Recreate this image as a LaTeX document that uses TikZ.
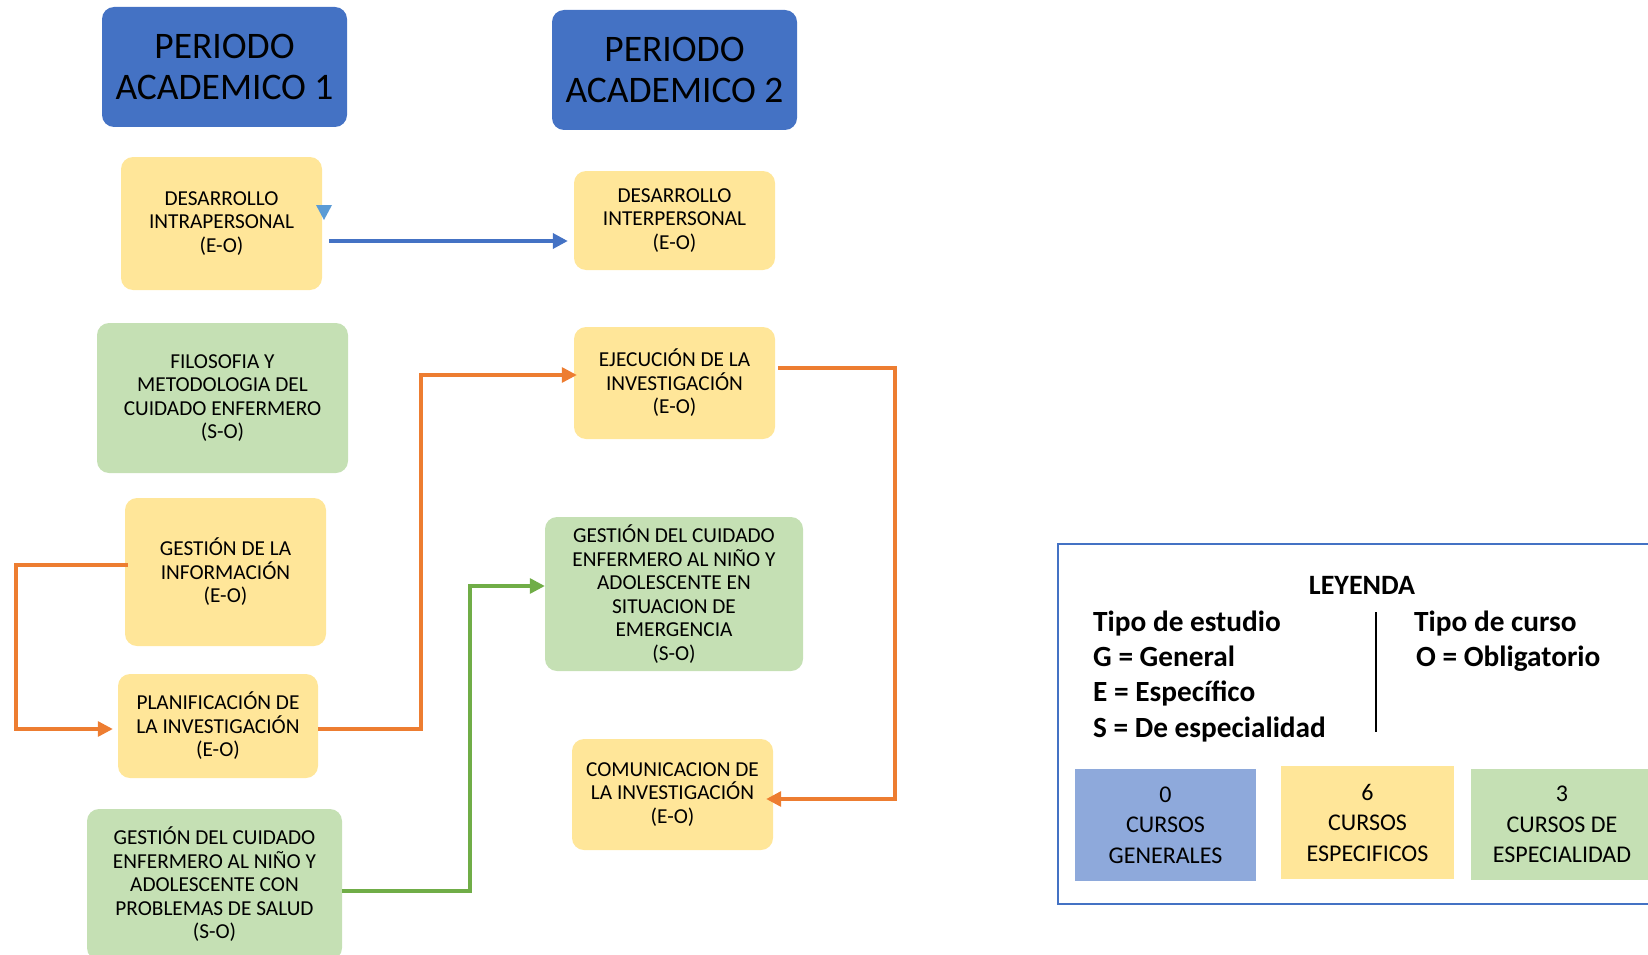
\documentclass[tikz,border=0pt]{standalone}
\usepackage{fontspec}
\setmainfont{Carlito}
\usetikzlibrary{arrows.meta}
\definecolor{tblue}{HTML}{4472C4}
\definecolor{ylw}{HTML}{FFE699}
\definecolor{grn}{HTML}{C5E0B4}
\definecolor{lblue}{HTML}{8EA9DB}
\definecolor{orng}{HTML}{ED7D31}
\definecolor{garr}{HTML}{70AD47}
\definecolor{tri}{HTML}{5B9BD5}
\tikzset{
  basebox/.style={inner sep=0pt, align=center, text=black},
  titlebox/.style={basebox, fill=tblue, rounded corners=12pt, font=\fontsize{37.5}{41}\selectfont},
  ybox/.style={basebox, fill=ylw, rounded corners=12pt, font=\fontsize{21.3}{23.5}\selectfont},
  gbox/.style={basebox, fill=grn, rounded corners=12pt, font=\fontsize{21.3}{23.5}\selectfont},
  legsq/.style={basebox, font=\fontsize{24}{30.5}\selectfont},
  legtxt/.style={inner sep=0pt, anchor=base west, font=\bfseries\fontsize{29.3}{35}\selectfont},
  conn/.style={line width=3.2pt},
  oarrow/.style={conn, draw=orng, -{Triangle[length=15pt,width=15pt]}},
  garrow/.style={conn, draw=garr, -{Triangle[length=15pt,width=15pt]}},
  barrow/.style={conn, line width=3.6pt, draw=tblue, -{Triangle[length=15pt,width=15pt]}},
}
\begin{document}
\begin{tikzpicture}[x=1pt,y=-1pt]
\useasboundingbox (0,0) rectangle (1648,955);
\clip (0,0) rectangle (1648,955);

% titles
\node[titlebox, minimum width=245pt, minimum height=120pt] (pa1) at (224.5,67) {PERIODO\\ACADEMICO 1};
\node[titlebox, minimum width=245pt, minimum height=120pt] (pa2) at (674.5,70) {PERIODO\\ACADEMICO 2};

% column 1
\node[ybox, minimum width=201pt, minimum height=133pt] (di) at (221.5,223.5) {DESARROLLO\\INTRAPERSONAL\\(E-O)};
\node[gbox, minimum width=251pt, minimum height=150pt] (fil) at (222.5,398) {FILOSOFIA Y\\METODOLOGIA DEL\\CUIDADO ENFERMERO\\(S-O)};
\node[ybox, minimum width=201pt, minimum height=148pt] (ginf) at (225.5,572) {GESTIÓN DE LA\\INFORMACIÓN\\(E-O)};
\node[ybox, minimum width=200pt, minimum height=104pt] (plan) at (218,726) {PLANIFICACIÓN DE\\LA INVESTIGACIÓN\\(E-O)};
\node[gbox, minimum width=255pt, minimum height=151pt] (gcp) at (214.5,884.5) {GESTIÓN DEL CUIDADO\\ENFERMERO AL NIÑO Y\\ADOLESCENTE CON\\PROBLEMAS DE SALUD\\(S-O)};

% column 2
\node[ybox, minimum width=201pt, minimum height=99pt] (dinter) at (674.5,220.5) {DESARROLLO\\INTERPERSONAL\\(E-O)};
\node[ybox, minimum width=201pt, minimum height=112pt] (eje) at (674.5,383) {EJECUCIÓN DE LA\\INVESTIGACIÓN\\(E-O)};
\node[gbox, minimum width=258pt, minimum height=154pt] (gce) at (674,594) {GESTIÓN DEL CUIDADO\\ENFERMERO AL NIÑO Y\\ADOLESCENTE EN\\SITUACION DE\\EMERGENCIA\\(S-O)};
\node[ybox, minimum width=201pt, minimum height=111pt] (com) at (672.5,794.5) {COMUNICACION DE\\LA INVESTIGACIÓN\\(E-O)};

% stray arrowhead
\fill[tri] (316,205) -- (332,205) -- (324,220) -- cycle;

% connectors
\draw[barrow, shorten <=7pt, shorten >=6pt] (di.east |- 0,241) -- (dinter.west |- 0,241);
\draw[oarrow, shorten >=-3pt] (plan.east |- 0,729) -| (421,375) -- (eje.west |- 0,375);
\draw[oarrow, shorten <=-3pt, shorten >=5pt] (ginf.west |- 0,565) -| (16,729) -- (plan.west |- 0,729);
\draw[oarrow, shorten <=3pt, shorten >=-7pt] (eje.east |- 0,368) -| (895,799) -- (com.east |- 0,799);
\draw[garrow] (gcp.east |- 0,891) -| (470,586) -- (gce.west |- 0,586);

% legend
\draw[tblue, line width=2.5pt] (1058,544) rectangle (1700,904);
\node[inner sep=0pt, font=\bfseries\fontsize{28}{34}\selectfont] (ley) at (1362,585) {LEYENDA};
\node[legtxt] (t1) at (1093,631) {Tipo de estudio};
\node[legtxt] (t2) at (1093,666) {G = General};
\node[legtxt] (t3) at (1093,701) {E = Específico};
\node[legtxt] (t4) at (1093,737) {S = De especialidad};
\node[legtxt] (t5) at (1414,631) {Tipo de curso};
\node[legtxt] (t6) at (1416,666) {O = Obligatorio};
\draw[black, line width=2.5pt] (1376,612) -- (1376,732);

\node[legsq, fill=lblue, minimum width=181pt, minimum height=112pt] (lg) at (1165.5,825) {0\\CURSOS\\GENERALES};
\node[legsq, fill=ylw, minimum width=173pt, minimum height=113pt] (le) at (1367.5,822.5) {6\\CURSOS\\ESPECIFICOS};
\node[legsq, fill=grn, minimum width=182pt, minimum height=111pt] (ls) at (1562,824.5) {3\\CURSOS DE\\ESPECIALIDAD};
\end{tikzpicture}
\end{document}
